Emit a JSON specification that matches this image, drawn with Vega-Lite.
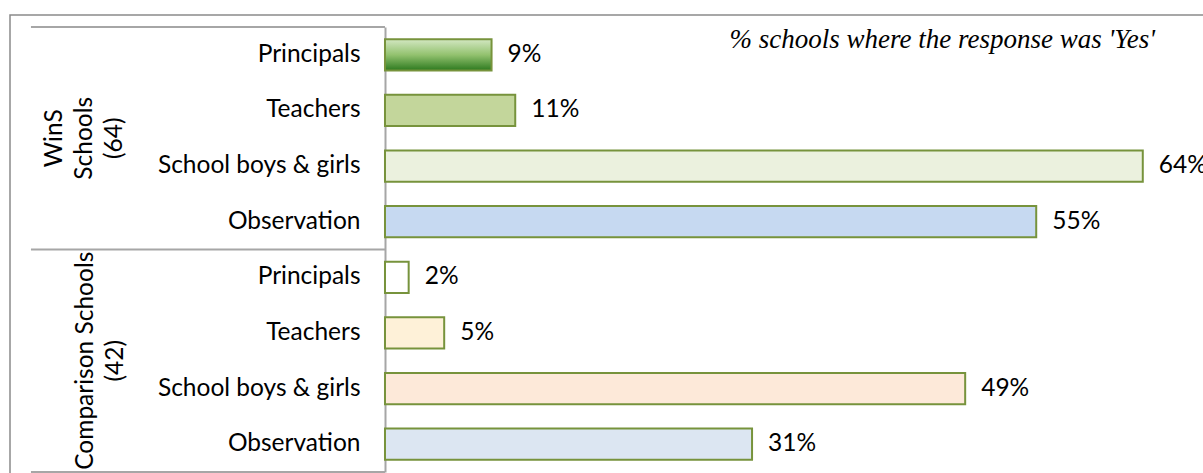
{
  "$schema": "https://vega.github.io/schema/vega-lite/v6.json",
  "autosize": {"type": "none"},
  "padding": {"left": 10, "top": 15, "right": -1, "bottom": -1},
  "width": 1194,
  "height": 459,
  "background": "white",
  "config": {
    "view": {"stroke": "#8a8a8a", "strokeWidth": 1.5},
    "font": "Lato"
  },
  "title": {
    "text": "% schools where the response was 'Yes'",
    "orient": "top",
    "anchor": "end",
    "frame": "group",
    "offset": 0,
    "baseline": "alphabetic",
    "dy": 60,
    "dx": -49,
    "font": "Liberation Serif",
    "fontStyle": "italic",
    "fontWeight": "normal",
    "fontSize": 27,
    "color": "#000000"
  },
  "data": {
    "values": [
      {"key": "WinS|Principals", "grp": "WinS", "glabel": "WinS\nSchools\n(64)", "cat": "Principals", "v": 0.09},
      {"key": "WinS|Teachers", "grp": "WinS", "glabel": "WinS\nSchools\n(64)", "cat": "Teachers", "v": 0.11},
      {"key": "WinS|School boys & girls", "grp": "WinS", "glabel": "WinS\nSchools\n(64)", "cat": "School boys & girls", "v": 0.64},
      {"key": "WinS|Observation", "grp": "WinS", "glabel": "WinS\nSchools\n(64)", "cat": "Observation", "v": 0.55},
      {"key": "Comparison|Principals", "grp": "Comparison", "glabel": "Comparison Schools\n(42)", "cat": "Principals", "v": 0.02},
      {"key": "Comparison|Teachers", "grp": "Comparison", "glabel": "Comparison Schools\n(42)", "cat": "Teachers", "v": 0.05},
      {"key": "Comparison|School boys & girls", "grp": "Comparison", "glabel": "Comparison Schools\n(42)", "cat": "School boys & girls", "v": 0.49},
      {"key": "Comparison|Observation", "grp": "Comparison", "glabel": "Comparison Schools\n(42)", "cat": "Observation", "v": 0.31}
    ]
  },
  "encoding": {
    "y": {
      "field": "key",
      "type": "nominal",
      "sort": null,
      "scale": {"type": "band", "range": [12, 457], "paddingInner": 0, "paddingOuter": 0},
      "axis": {
        "offset": -375,
        "title": null,
        "ticks": false,
        "domainColor": "#a6a6a6",
        "domainWidth": 2,
        "labelExpr": "split(datum.value, '|')[1]",
        "labelPadding": 25,
        "labelFont": "Lato",
        "labelFontSize": 24.5,
        "labelColor": "#000000",
        "labelLimit": 400
      }
    }
  },
  "layer": [
    {
      "mark": {"type": "bar", "height": {"band": 0.56}, "stroke": "#77933c", "strokeWidth": 2},
      "encoding": {
        "x": {
          "field": "v",
          "type": "quantitative",
          "scale": {"domain": [-0.3167, 0.6917], "nice": false, "zero": false},
          "axis": null
        },
        "x2": {"datum": 0},
        "fill": {
          "condition": {
            "test": "datum.key === 'WinS|Principals'",
            "value": {
              "gradient": "linear",
              "x1": 0, "y1": 0, "x2": 0, "y2": 1,
              "stops": [
                {"offset": 0, "color": "#d3e7c2"},
                {"offset": 0.5, "color": "#93c26f"},
                {"offset": 1, "color": "#2d7a1f"}
              ]
            }
          },
          "field": "key",
          "type": "nominal",
          "scale": {
            "domain": ["WinS|Principals", "WinS|Teachers", "WinS|School boys & girls", "WinS|Observation", "Comparison|Principals", "Comparison|Teachers", "Comparison|School boys & girls", "Comparison|Observation"],
            "range": ["#6aa84f", "#c3d69b", "#ebf1de", "#c6d9f1", "#ffffff", "#fef1d8", "#fde9d9", "#dce6f2"]
          },
          "legend": null
        }
      }
    },
    {
      "mark": {"type": "text", "align": "left", "baseline": "middle", "dx": 16, "fontSize": 24.5, "font": "Lato", "color": "#000000"},
      "encoding": {
        "x": {"field": "v", "type": "quantitative"},
        "text": {"field": "v", "type": "quantitative", "format": ".0%"}
      }
    },
    {
      "transform": [{"filter": "datum.cat === 'Principals'"}],
      "mark": {"type": "rule", "color": "#a6a6a6", "strokeWidth": 2},
      "encoding": {
        "y": {"field": "key", "type": "nominal", "bandPosition": 0},
        "x": {"datum": -0.299},
        "x2": {"datum": 0}
      }
    },
    {
      "transform": [{"filter": "datum.key === 'Comparison|Observation'"}],
      "mark": {"type": "rule", "color": "#a6a6a6", "strokeWidth": 2},
      "encoding": {
        "y": {"field": "key", "type": "nominal", "bandPosition": 1},
        "x": {"datum": -0.299},
        "x2": {"datum": 0}
      }
    },
    {
      "transform": [{"filter": "datum.key === 'WinS|School boys & girls'"}],
      "mark": {"type": "text", "angle": 270, "align": "center", "baseline": "alphabetic", "lineBreak": "\n", "lineHeight": 30, "fontSize": 24.5, "font": "Lato", "color": "#000000"},
      "encoding": {
        "y": {"field": "key", "type": "nominal", "bandPosition": 0},
        "x": {"datum": -0.2728},
        "text": {"field": "glabel"}
      }
    },
    {
      "transform": [{"filter": "datum.key === 'Comparison|School boys & girls'"}],
      "mark": {"type": "text", "angle": 270, "align": "center", "baseline": "alphabetic", "lineBreak": "\n", "lineHeight": 30, "fontSize": 24.5, "font": "Lato", "color": "#000000"},
      "encoding": {
        "y": {"field": "key", "type": "nominal", "bandPosition": 0},
        "x": {"datum": -0.2466},
        "text": {"field": "glabel"}
      }
    }
  ]
}
